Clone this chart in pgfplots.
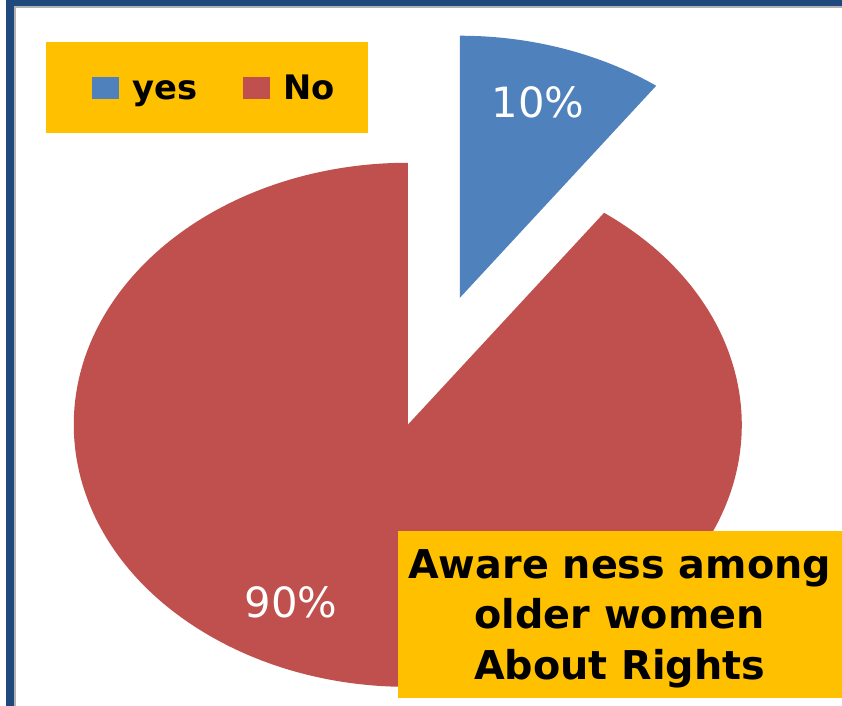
\documentclass[border=0pt]{standalone}
\usepackage{pgfplots}
\pgfplotsset{compat=1.18}
\usepackage{pgfplotstable}
\usepackage{fontspec}
\setmainfont{DejaVu Sans}
\definecolor{pieblue}{HTML}{4F81BD}
\definecolor{piered}{HTML}{C0504D}
\definecolor{boxorange}{HTML}{FFC000}
\definecolor{frameblue}{HTML}{1F497D}
\pgfplotstableread{
label value
yes 10
No 90
}\piedata
\begin{document}
\pgfplotstablegetelem{0}{value}\of\piedata
\pgfmathsetmacro{\vyes}{\pgfplotsretval}
\pgfmathsetmacro{\asplit}{90-3.6*\vyes}
\begin{tikzpicture}
\begin{axis}[hide axis, scale only axis, width=842bp, height=711bp,
  xmin=0, xmax=842, ymin=0, ymax=711, clip=false, anchor=origin, at={(0,0)}]
% background and frame
\fill[white] (axis cs:0,0) rectangle (axis cs:842,711);
\fill[gray!60] (axis cs:8,0) rectangle (axis cs:10,705);
\fill[gray!60] (axis cs:8,703) rectangle (axis cs:842,705);
\fill[frameblue] (axis cs:0,0) rectangle (axis cs:8,711);
\fill[frameblue] (axis cs:0,705) rectangle (axis cs:842,711);
% red slice (No)
\fill[piered] (axis cs:404.5,283) -- +(\asplit:336.5bp and 264bp)
  arc[start angle=\asplit, end angle=-270, x radius=336.5bp, y radius=264bp] -- cycle;
% blue slice (yes), exploded
\fill[pieblue] (axis cs:457,411) -- +(90:336.5bp and 264bp)
  arc[start angle=90, end angle=\asplit, x radius=336.5bp, y radius=264bp] -- cycle;
% percentage labels
\node[white, inner sep=0, font=\fontsize{42bp}{50bp}\selectfont] at (axis cs:536,608) {10\%};
\node[white, inner sep=0, font=\fontsize{42bp}{50bp}\selectfont] at (axis cs:287,104) {90\%};
% legend box
\fill[boxorange] (axis cs:40,577) rectangle (axis cs:364,669);
\fill[pieblue] (axis cs:86,611) rectangle (axis cs:114,633);
\fill[piered] (axis cs:238,611) rectangle (axis cs:266,633);
\node[anchor=base west, inner sep=0, font=\fontsize{34bp}{40bp}\selectfont\bfseries] at (axis cs:127,611) {yes};
\node[anchor=base west, inner sep=0, font=\fontsize{34bp}{40bp}\selectfont\bfseries] at (axis cs:279,611) {No};
% title box
\fill[boxorange] (axis cs:395,8) rectangle (axis cs:842,176);
\node[anchor=base, inner sep=0, font=\fontsize{40bp}{51bp}\selectfont\bfseries] at (axis cs:618,128) {Aware ness among};
\node[anchor=base, inner sep=0, font=\fontsize{40bp}{51bp}\selectfont\bfseries] at (axis cs:618,78) {older women};
\node[anchor=base, inner sep=0, font=\fontsize{40bp}{51bp}\selectfont\bfseries] at (axis cs:618,26) {About Rights};
\end{axis}
\pgfresetboundingbox
\path[use as bounding box] (0,0) rectangle (842bp,711bp);
\end{tikzpicture}
\end{document}
